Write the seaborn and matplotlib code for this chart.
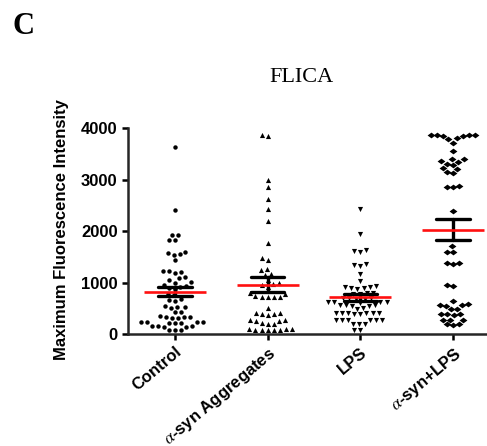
import pandas as pd
import matplotlib
matplotlib.use('Agg')
import matplotlib.pyplot as plt
import seaborn as sns
from matplotlib.markers import MarkerStyle
from matplotlib.transforms import Affine2D, ScaledTranslation

groups = ['Control', r'$\alpha$-syn Aggregates', 'LPS', r'$\alpha$-syn+LPS']

control = [3630, 2410, 1930, 1920, 1830, 1820, 1600, 1580, 1560, 1540, 1430,
           1230, 1220, 1210, 1190, 1100, 1080, 1050, 1010, 1000, 960, 940, 920,
           900, 870, 780, 750, 680, 660, 640, 540, 530, 520, 510, 430, 420,
           340, 335, 330, 325, 320, 310, 240, 235, 230, 225, 220, 215, 210,
           160, 155, 150, 145, 140, 80, 75, 70]

aggregates = [3865, 3845, 2990, 2850, 2620, 2430, 2200, 1760, 1470, 1430,
              1260, 1240, 1170, 1150, 1050, 1000, 980, 950, 920, 790, 780,
              730, 725, 720, 715, 710, 500, 410, 400, 390, 380, 370, 280, 270,
              260, 250, 210, 200, 190, 100, 95, 90, 85, 80, 80, 75, 70]

lps = [2420, 1940, 1640, 1620, 1600, 1360, 1340, 1320, 1165, 1030, 930, 920,
       910, 900, 890, 880, 800, 790, 785, 780, 700, 695, 690, 685, 680, 630,
       625, 620, 615, 610, 565, 560, 555, 550, 545, 500, 495, 410, 408, 406,
       404, 402, 400, 398, 396, 275, 272, 270, 268, 266, 264, 195, 190, 185,
       80, 75]

syn_lps = [3870, 3865, 3860, 3855, 3850, 3845, 3800, 3790, 3715, 3560, 3400,
           3390, 3350, 3340, 3300, 3290, 3220, 3210, 3140, 3130, 2870, 2860,
           2850, 2390, 1700, 1600, 1590, 1380, 1370, 1360, 960, 940, 640, 580,
           570, 560, 550, 490, 480, 390, 385, 380, 375, 280, 275, 270, 190,
           185, 180]

df = pd.DataFrame({
    'Group': [groups[0]] * len(control) + [groups[1]] * len(aggregates)
             + [groups[2]] * len(lps) + [groups[3]] * len(syn_lps),
    'Intensity': control + aggregates + lps + syn_lps,
})

sns.set_style('ticks')
plt.rcParams['font.family'] = ['Liberation Sans', 'DejaVu Sans']
plt.rcParams['mathtext.fontset'] = 'stix'
plt.rcParams['text.color'] = 'black'
plt.rcParams['xtick.color'] = 'black'
plt.rcParams['ytick.color'] = 'black'
plt.rcParams['axes.labelcolor'] = 'black'

fig = plt.figure(figsize=(4.87, 4.46), dpi=100)
ax = fig.add_axes([0.2628, 0.2511, 0.7372, 0.4619])

# swarm spacing is set by size, the drawn glyph is scaled inside it
markers = [MarkerStyle('o', transform=Affine2D().scale(0.76)),
           MarkerStyle('^', transform=Affine2D().scale(0.88)),
           MarkerStyle('v', transform=Affine2D().scale(0.88)),
           MarkerStyle('D', transform=Affine2D().scale(0.95, 0.7))]
for g, m in zip(groups, markers):
    sns.swarmplot(data=df[df['Group'] == g], x='Group', y='Intensity', order=groups,
                  marker=m, size=4.2, color='black', ax=ax, clip_on=False, zorder=2)

# mean +/- SEM
sns.pointplot(data=df, x='Group', y='Intensity', order=groups, errorbar='se',
              capsize=0.36, color='black', linestyle='none', markers='none',
              err_kws={'linewidth': 2.4, 'zorder': 3}, ax=ax)
sns.pointplot(data=df, x='Group', y='Intensity', order=groups, errorbar=None,
              color='#ff1010', linestyle='none', markers='_', markersize=45,
              markeredgewidth=1.9, zorder=4, ax=ax)

ax.set_xlim(-0.507, 3.367)
ax.set_ylim(0, 4000)
ax.set_yticks([0, 1000, 2000, 3000, 4000])
ax.set_xticks(range(4))
ax.set_xticklabels(groups, rotation=40, ha='right', rotation_mode='anchor',
                   fontweight='bold', fontsize=12)
shift = ScaledTranslation(-3 / 100, 0, fig.dpi_scale_trans)
for lab in ax.get_xticklabels():
    lab.set_transform(lab.get_transform() + shift)
for lab in ax.get_yticklabels():
    lab.set_fontweight('bold')
    lab.set_fontsize(12)
ax.set_xlabel('')
ax.set_ylabel('Maximum Fluorescence Intensity', fontweight='bold', fontsize=12)
ax.yaxis.set_label_coords(-0.164, 0.505)

sns.despine(ax=ax)
for side in ['left', 'bottom']:
    ax.spines[side].set_linewidth(1.8)
ax.tick_params(width=1.8, length=4.5, color='black', pad=3)

fig.text(302 / 487, 1 - 78 / 446, 'FLICA', ha='center', va='center',
         family='Liberation Serif', fontsize=16)
fig.text(24 / 487, 1 - 27 / 446, 'C', ha='center', va='center',
         family='Liberation Serif', fontweight='bold', fontsize=22)

fig.savefig('out.png', dpi=100)
